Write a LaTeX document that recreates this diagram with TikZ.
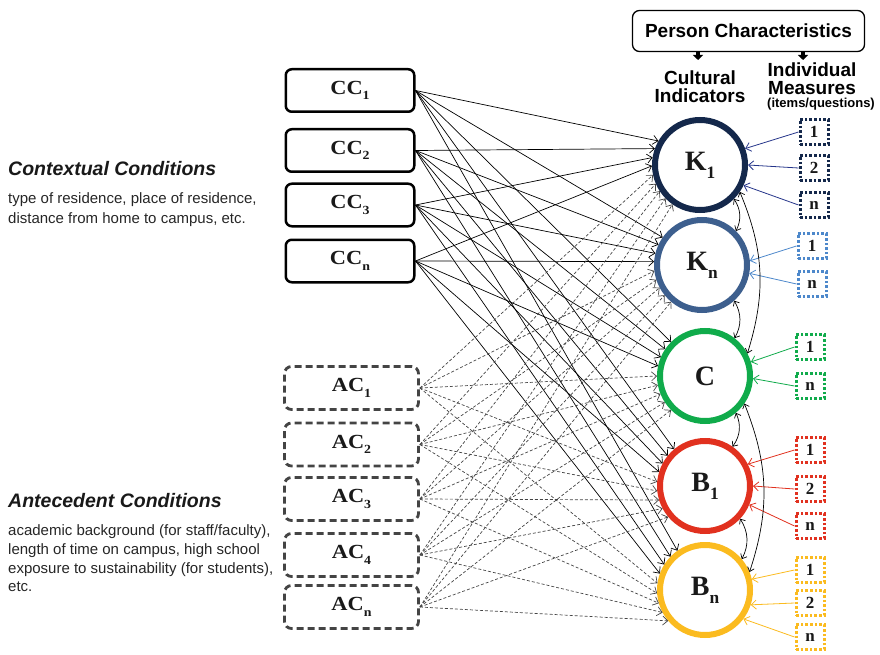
\documentclass[tikz,border=0pt]{standalone}
\usepackage{fontspec}
\setmainfont{Liberation Serif}
\setsansfont{Liberation Sans}
\newfontfamily\lblfont[FakeStretch=1.12]{Liberation Serif}
\newfontfamily\cirfont{Liberation Serif}
\usetikzlibrary{arrows.meta}
\definecolor{colKa}{HTML}{14284B}
\definecolor{colKaArr}{HTML}{25358A}
\definecolor{colKn}{HTML}{3D5F8E}
\definecolor{colKnIt}{HTML}{4D88CB}
\definecolor{colC}{HTML}{10AB4B}
\definecolor{colBa}{HTML}{E1311F}
\definecolor{colBn}{HTML}{FBBB1F}
\definecolor{colDash}{HTML}{444444}
\newcommand\sbs[1]{\raisebox{-0.28em}{\scalebox{0.62}{#1}}}
\newcommand\tightls{\lineskiplimit=-30pt\relax}
\begin{document}
\begin{tikzpicture}[x=1pt,y=-1pt,
  ccbox/.style={draw, line width=2.5pt, rounded corners=6pt, minimum width=128.5pt, minimum height=42.5pt, inner sep=0pt, font=\lblfont\bfseries\fontsize{20}{22}\selectfont, text=black!90},
  acbox/.style={draw=colDash, line width=2.8pt, dash pattern=on 7pt off 4pt, rounded corners=7pt, minimum width=134pt, minimum height=43pt, inner sep=0pt, font=\lblfont\bfseries\fontsize{20}{22}\selectfont, text=black!90},
  circ/.style={circle, line width=6pt, minimum size=90pt, inner sep=0pt, font=\cirfont\bfseries\fontsize{28}{30}\selectfont, text=black!90},
  item/.style={draw, line width=3pt, dash pattern=on 2.6pt off 2pt, minimum width=28pt, minimum height=25pt, inner sep=0pt, font=\cirfont\bfseries\fontsize{17}{18}\selectfont, text=black!90},
  barb/.tip={Straight Barb[length=5pt,width=9pt]},
  sbarb/.tip={Straight Barb[length=4pt,width=7pt]},
  sol/.style={draw=black, line width=0.7pt, -barb},
  dsh/.style={draw=colDash, line width=0.7pt, dash pattern=on 3pt off 2pt, -barb},
  dbl/.style={draw=black, line width=0.7pt, sbarb-sbarb},
  itarr/.style={line width=0.8pt, -barb},
  stub/.style={line width=4pt, -{Triangle[width=10pt,length=5pt]}},
  head/.style={font=\sffamily\bfseries\fontsize{19}{18}\selectfont\tightls, inner sep=0pt, align=center},
  ttl/.style={font=\sffamily\bfseries\itshape\fontsize{19.5}{21}\selectfont, inner sep=0pt, anchor=base west, text=black!90},
  desc/.style={font=\sffamily\fontsize{15}{19}\selectfont, inner sep=0pt, anchor=base west, text=black!85}
]
\useasboundingbox (0,0) rectangle (880,655);

% left texts
\node[ttl] (tcc) at (8,176) {Contextual Conditions};
\node[desc] (dcc1) at (8,204) {type of residence, place of residence,};
\node[desc] (dcc2) at (8,223) {distance from home to campus, etc.};
\node[ttl] (tac) at (8,507) {Antecedent Conditions};
\node[desc] (dac1) at (8,535) {academic background (for staff/faculty),};
\node[desc] (dac2) at (8,554) {length of time on campus, high school};
\node[desc] (dac3) at (8,573) {exposure to sustainability (for students),};
\node[desc] (dac4) at (8,591) {etc.};

% header
\node[draw, line width=1.3pt, rounded corners=7pt, minimum width=232pt, minimum height=41pt, inner sep=0pt,
  font=\sffamily\bfseries\fontsize{19}{20}\selectfont] (pc) at (748.5,31) {Person Characteristics};
\coordinate (ci) at (698,60);
\coordinate (im) at (803,60);
\draw[stub] (pc.south -| ci) -- (ci);
\draw[stub] (pc.south -| im) -- (im);
\node[head, anchor=base] (cil) at (700,103) {Cultural\\Indicators};
\node[head, anchor=base] (iml) at (812,108) {Individual\\Measures\\[-5pt]\hspace*{18pt}{\fontsize{13}{13}\selectfont(items/questions)}};

% condition boxes
\node[ccbox] (cc1) at (350,90.5) {CC\sbs{1}};
\node[ccbox] (cc2) at (350,150.5) {CC\sbs{2}};
\node[ccbox] (cc3) at (350,205) {CC\sbs{3}};
\node[ccbox] (ccn) at (350,261) {CC\sbs{n}};
\node[acbox] (ac1) at (351.5,388) {AC\sbs{1}};
\node[acbox] (ac2) at (351.5,444.5) {AC\sbs{2}};
\node[acbox] (ac3) at (351.5,499) {AC\sbs{3}};
\node[acbox] (ac4) at (351.5,555) {AC\sbs{4}};
\node[acbox] (acn) at (351.5,607) {AC\sbs{n}};

% circles
\node[circ, draw=colKa] (k1) at (700,165) {K\sbs{1}};
\node[circ, draw=colKn] (kn) at (702,265) {K\sbs{n}};
\node[circ, draw=colC] (c) at (705,376) {C};
\node[circ, draw=colBa] (b1) at (705,486) {B\sbs{1}};
\node[circ, draw=colBn] (bn) at (705,590) {B\sbs{n}};

% items
\node[item, draw=colKa] (k1a) at (814,132) {1};
\node[item, draw=colKa] (k1b) at (814,168) {2};
\node[item, draw=colKa] (k1c) at (814,205) {n};
\node[item, draw=colKnIt] (kna) at (812,246) {1};
\node[item, draw=colKnIt] (knb) at (812,284) {n};
\node[item, draw=colC] (ca) at (810,347) {1};
\node[item, draw=colC] (cb) at (810,386) {n};
\node[item, draw=colBa] (b1a) at (810,450) {1};
\node[item, draw=colBa] (b1b) at (810,489) {2};
\node[item, draw=colBa] (b1c) at (810,526) {n};
\node[item, draw=colBn] (bna) at (810,570) {1};
\node[item, draw=colBn] (bnb) at (810,603) {2};
\node[item, draw=colBn] (bnc) at (810,637) {n};

% item arrows
\foreach \s/\t/\a/\col in {k1a/k1/20/colKaArr, k1b/k1/0/colKaArr, k1c/k1/-25/colKaArr,
  kna/kn/5/colKnIt, knb/kn/-10/colKnIt, ca/c/17/colC, cb/c/-3/colC,
  b1a/b1/27/colBa, b1b/b1/0/colBa, b1c/b1/-23/colBa,
  bna/bn/13/colBn, bnb/bn/-18/colBn, bnc/bn/-37/colBn}
  \draw[itarr, draw=\col] (\s.west) -- (\t.\a);

% condition web
\foreach \s [count=\i] in {cc1,cc2,cc3,ccn,ac1,ac2,ac3,ac4,acn}{
  \foreach \t/\a/\b in {k1/150/235,kn/145/230,c/135/225,b1/130/220,bn/125/220}{
    \pgfmathtruncatemacro\ang{\a+(\i-1)*(\b-\a)/8}
    \ifnum\i<5
      \draw[sol] (\s.east) -- (\t.\ang);
    \else
      \draw[dsh] (\s.east) -- (\t.\ang);
    \fi
  }
}

% correlations
\draw[dbl] (k1.-45) to[bend left=30] (kn.45);
\draw[dbl] (kn.-48) to[bend left=30] (c.52);
\draw[dbl] (c.-50) to[bend left=30] (b1.55);
\draw[dbl] (b1.-43) to[bend left=30] (bn.40);
\draw[dbl] (k1.-34) to[bend left=20] (c.28);
\draw[dbl] (c.-35) to[bend left=20] (bn.22);
\end{tikzpicture}
\end{document}
